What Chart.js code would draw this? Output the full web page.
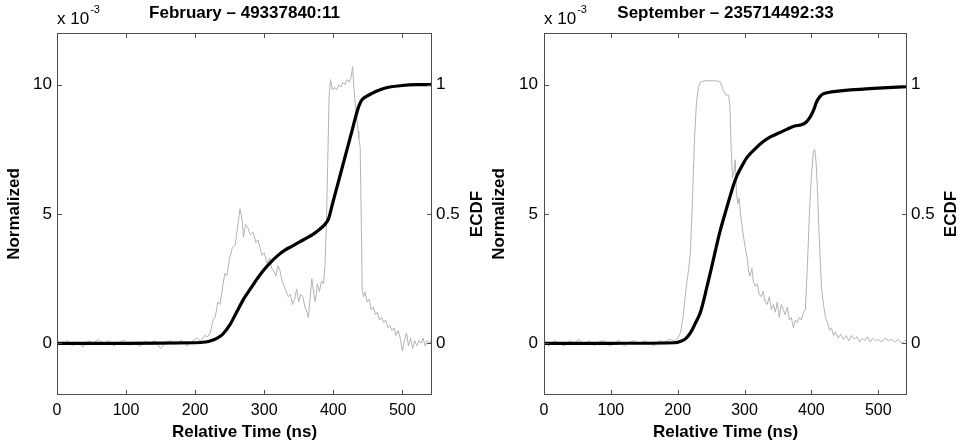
<!DOCTYPE html>
<html>
<head>
<meta charset="utf-8">
<script src="https://cdn.jsdelivr.net/npm/chart.js@4.4.1/dist/chart.umd.min.js"></script>
<style>
  html, body { margin: 0; padding: 0; background: #fff; }
  #wrap { position: relative; width: 965px; height: 445px; }
  #febChart { position: absolute; left: 0; top: 0; }
  #sepChart { position: absolute; left: 488px; top: 0; }
</style>
</head>
<body>
<div id="wrap">
  <canvas id="febChart" width="488" height="445"></canvas>
  <canvas id="sepChart" width="477" height="445"></canvas>
</div>
<script>
// tick labels
const timeTicks = [0, 100, 200, 300, 400, 500];
const normTicks = [0, 5, 10];
const ecdfTicks = [0, 0.5, 1];

// February - normalized signal (x 10^-3) and ECDF
const febTime = [0, 8, 15, 22, 30, 38, 45, 52, 60, 68, 75, 82, 90, 98, 105, 112, 120, 128, 135, 142, 150, 158, 165, 172, 180, 188, 195, 202, 208, 214, 218, 222, 226, 229, 233, 236, 240, 243, 246, 250, 254, 258, 261, 265, 268, 270, 273, 276, 280, 284, 288, 291, 294, 297, 300, 304, 308, 311, 314, 317, 320, 323, 326, 329, 332, 335, 338, 341, 344, 347, 350, 353, 356, 359, 362, 364, 366, 369, 372, 374, 377, 380, 383, 386, 388, 390, 392, 394, 396, 399, 402, 405, 408, 411, 414, 417, 420, 423, 426, 428, 430, 433, 436, 437, 439, 441, 442, 444, 446, 449, 452, 455, 458, 461, 464, 467, 470, 473, 476, 479, 482, 485, 488, 491, 494, 497, 500, 503, 506, 509, 512, 515, 518, 521, 524, 527, 530, 533, 536, 540, 543];
const febNorm = [0.05, -0.05, 0.1, -0.1, 0.05, -0.15, 0.1, 0.0, 0.15, -0.05, 0.1, -0.1, 0.05, 0.12, -0.08, 0.05, -0.12, 0.08, 0.0, 0.1, -0.2, 0.05, 0.1, -0.05, 0.12, -0.1, 0.05, 0.2, 0.1, 0.3, 0.25, 0.4, 0.9, 1.0, 1.6, 1.5, 2.2, 2.7, 2.6, 3.3, 3.7, 3.8, 4.4, 5.2, 4.8, 4.1, 4.6, 4.5, 4.2, 4.3, 3.9, 4.0, 3.7, 3.4, 3.5, 3.1, 3.3, 2.9, 2.8, 2.6, 3.0, 2.8, 2.4, 2.2, 2.0, 1.8, 1.9, 1.5, 1.7, 2.1, 1.6, 1.9, 1.8, 1.4, 1.2, 1.0, 1.6, 2.5, 1.9, 1.6, 2.3, 2.0, 2.4, 2.3, 3.0, 4.5, 7.0, 9.5, 10.2, 9.8, 9.9, 9.8, 10.0, 9.9, 10.1, 10.0, 10.2, 10.1, 10.3, 10.7, 9.8, 9.0, 8.2, 7.9, 7.6, 4.0, 2.0, 1.8, 2.0, 1.6, 1.7, 1.3, 1.4, 1.1, 1.2, 0.9, 1.0, 0.8, 0.9, 0.6, 0.7, 0.5, 0.6, 0.3, 0.5, 0.2, -0.3, 0.1, 0.4, -0.1, 0.2, -0.2, 0.1, -0.1, 0.1, 0.0, 0.2, -0.1, 0.1, 0.0, 0.2];
const febCdfTime = [0, 100, 200, 215, 225, 232, 240, 250, 260, 270, 280, 290, 300, 310, 320, 330, 340, 350, 360, 370, 380, 388, 393, 398, 405, 415, 425, 435, 440, 445, 455, 465, 480, 500, 520, 543];
const febCdf = [0, 0, 0.002, 0.005, 0.012, 0.02, 0.035, 0.07, 0.12, 0.17, 0.21, 0.25, 0.285, 0.315, 0.34, 0.36, 0.375, 0.39, 0.405, 0.42, 0.44, 0.46, 0.48, 0.53, 0.6, 0.7, 0.8, 0.9, 0.935, 0.95, 0.965, 0.978, 0.99, 0.997, 1.0, 1.0];

// September - normalized signal (x 10^-3) and ECDF
const sepTime = [0, 8, 15, 22, 30, 38, 45, 52, 60, 68, 75, 82, 90, 98, 105, 112, 120, 128, 135, 142, 150, 158, 165, 172, 180, 188, 195, 200, 204, 208, 212, 216, 219, 222, 225, 228, 231, 234, 240, 250, 258, 264, 268, 272, 276, 278, 280, 282, 284, 286, 288, 290, 292, 294, 296, 298, 301, 304, 306, 308, 311, 313, 316, 319, 322, 325, 328, 331, 334, 337, 340, 343, 346, 349, 352, 355, 358, 361, 364, 367, 370, 373, 376, 379, 382, 385, 388, 391, 394, 397, 400, 403, 405, 407, 409, 411, 413, 415, 418, 421, 424, 427, 430, 433, 436, 440, 444, 448, 452, 456, 460, 464, 468, 472, 476, 480, 484, 488, 492, 496, 500, 505, 510, 515, 520, 525, 530, 535, 540, 543];
const sepNorm = [0.0, -0.1, 0.1, 0.0, -0.1, 0.1, 0.0, 0.15, -0.05, 0.1, -0.1, 0.05, 0.1, -0.1, 0.0, 0.12, -0.1, 0.05, 0.1, -0.05, 0.1, 0.0, -0.1, 0.1, 0.05, 0.15, 0.1, 0.2, 0.4, 1.0, 2.0, 2.8, 3.5, 5.5, 7.8, 9.3, 9.9, 10.1, 10.15, 10.15, 10.15, 10.1, 9.8, 9.6, 9.6, 9.2, 7.5, 6.4, 6.6, 7.1, 5.8, 5.4, 5.6, 5.0, 4.6, 4.2, 3.7, 3.3, 2.8, 2.6, 2.9, 2.4, 2.2, 2.3, 1.9, 1.8, 2.0, 1.6, 1.5, 1.8, 1.3, 1.5, 1.2, 1.6, 1.0, 1.5, 1.3, 1.1, 1.4, 0.9, 1.0, 0.6, 0.9, 0.8, 1.0, 0.9, 1.2, 1.3, 3.0, 5.0, 6.5, 7.4, 7.5, 7.0, 6.0, 4.5, 3.3, 2.2, 1.5, 1.0, 0.8, 0.5, 0.6, 0.3, 0.45, 0.2, 0.35, 0.15, 0.3, 0.1, 0.3, 0.15, 0.25, 0.05, 0.2, 0.1, 0.25, 0.05, 0.2, 0.1, 0.15, 0.05, 0.2, 0.1, 0.15, 0.05, 0.15, 0.0, 0.1, 0.15];
const sepCdfTime = [0, 100, 195, 205, 212, 219, 226, 234, 243, 253, 263, 274, 282, 289, 297, 304, 315, 328, 340, 353, 365, 375, 385, 392, 398, 403, 408, 413, 418, 430, 458, 500, 543];
const sepCdf = [0, 0, 0.002, 0.008, 0.018, 0.04, 0.075, 0.12, 0.21, 0.32, 0.43, 0.53, 0.6, 0.65, 0.69, 0.72, 0.75, 0.78, 0.8, 0.815, 0.83, 0.84, 0.845, 0.855, 0.875, 0.9, 0.935, 0.955, 0.965, 0.972, 0.98, 0.987, 0.993];

const FONT = "'Liberation Sans', Arial, sans-serif";

// MATLAB-like frame: box, inward ticks, title, exponent, right ylabel
const matlabFrame = {
  id: "matlabFrame",
  afterDraw(chart, args, opts) {
    const { ctx, chartArea: a, scales } = chart;
    const len = 5;
    ctx.save();
    ctx.strokeStyle = "#4d4d4d";
    ctx.lineWidth = 1;
    ctx.strokeRect(a.left + 0.5, a.top + 0.5, a.right - a.left - 1, a.bottom - a.top - 1);
    ctx.beginPath();
    scales.x.ticks.forEach((t) => {
      const px = Math.round(scales.x.getPixelForValue(t.value)) + 0.5;
      ctx.moveTo(px, a.bottom); ctx.lineTo(px, a.bottom - len);
      ctx.moveTo(px, a.top); ctx.lineTo(px, a.top + len);
    });
    scales.y.ticks.forEach((t) => {
      const py = Math.round(scales.y.getPixelForValue(t.value)) + 0.5;
      ctx.moveTo(a.left, py); ctx.lineTo(a.left + len, py);
    });
    scales.y2.ticks.forEach((t) => {
      const py = Math.round(scales.y2.getPixelForValue(t.value)) + 0.5;
      ctx.moveTo(a.right, py); ctx.lineTo(a.right - len, py);
    });
    ctx.stroke();

    ctx.fillStyle = "#000";
    ctx.textBaseline = "middle";
    ctx.textAlign = "center";
    ctx.font = "bold 17px " + FONT;
    ctx.fillText(opts.title, (a.left + a.right) / 2, 13);

    ctx.textAlign = "left";
    ctx.font = "17px " + FONT;
    ctx.fillText("x 10", a.left, 19);
    const w = ctx.measureText("x 10").width;
    ctx.font = "11px " + FONT;
    ctx.fillText("-3", a.left + w + 1, 10);

    ctx.save();
    ctx.translate(opts.ecdfX, (a.top + a.bottom) / 2);
    ctx.rotate(-Math.PI / 2);
    ctx.textAlign = "center";
    ctx.font = "bold 17px " + FONT;
    ctx.fillText("ECDF", 0, 0);
    ctx.restore();
    ctx.restore();
  },
};

function toPoints(xs, ys) {
  return xs.map((x, i) => ({ x: x, y: ys[i] }));
}

function makeChart(canvasId, title, time, norm, cdfTime, cdf, sizes) {
  const ctx = document.getElementById(canvasId).getContext("2d");
  return new Chart(ctx, {
    type: "line",
    data: {
      datasets: [
        {
          label: "ECDF",
          data: toPoints(cdfTime, cdf),
          yAxisID: "y2",
          borderColor: "#000000",
          borderWidth: 3.2,
          pointRadius: 0,
          tension: 0.3,
        },
        {
          label: "Normalized",
          data: toPoints(time, norm),
          yAxisID: "y",
          borderColor: "#b3b3b3",
          borderWidth: 1,
          pointRadius: 0,
          tension: 0,
        },
      ],
    },
    options: {
      responsive: false,
      animation: false,
      layout: { padding: { top: 33, left: 0, right: 0, bottom: 0 } },
      plugins: {
        legend: { display: false },
        tooltip: { enabled: false },
        matlabFrame: { title: title, ecdfX: sizes.ecdfX },
      },
      scales: {
        x: {
          type: "linear",
          min: 0,
          max: 543,
          afterBuildTicks: (s) => { s.ticks = timeTicks.map((v) => ({ value: v })); },
          afterFit: (s) => { s.height = 50; },
          grid: { display: false, drawTicks: false },
          border: { display: false },
          ticks: { color: "#000", padding: 6, maxRotation: 0, font: { family: FONT, size: 16 } },
          title: {
            display: true,
            text: "Relative Time (ns)",
            color: "#000",
            padding: { top: 0, bottom: 2 },
            font: { family: FONT, size: 17, weight: "bold" },
          },
        },
        y: {
          type: "linear",
          position: "left",
          min: -2,
          max: 12,
          afterBuildTicks: (s) => { s.ticks = normTicks.map((v) => ({ value: v })); },
          afterFit: (s) => { s.width = sizes.left; },
          grid: { display: false, drawTicks: false },
          border: { display: false },
          ticks: { color: "#000", padding: sizes.tickPad, callback: (v) => String(v), font: { family: FONT, size: 17 } },
          title: {
            display: true,
            text: "Normalized",
            color: "#000",
            padding: { top: sizes.titlePad, bottom: 0 },
            font: { family: FONT, size: 17, weight: "bold" },
          },
        },
        y2: {
          type: "linear",
          position: "right",
          min: -0.2,
          max: 1.2,
          afterBuildTicks: (s) => { s.ticks = ecdfTicks.map((v) => ({ value: v })); },
          afterFit: (s) => { s.width = sizes.right; },
          grid: { display: false, drawTicks: false },
          border: { display: false },
          ticks: { color: "#000", padding: 4, callback: (v) => String(v), font: { family: FONT, size: 17 } },
        },
      },
    },
    plugins: [matlabFrame],
  });
}

document.addEventListener("DOMContentLoaded", () => {
  makeChart("febChart", "February \u2013 49337840:11", febTime, febNorm, febCdfTime, febCdf,
    { left: 57, right: 56, tickPad: 5, titlePad: 4, ecdfX: 477 });
  makeChart("sepChart", "September \u2013 235714492:33", sepTime, sepNorm, sepCdfTime, sepCdf,
    { left: 56, right: 58, tickPad: 6, titlePad: 1, ecdfX: 463 });
});
</script>
</body>
</html>
